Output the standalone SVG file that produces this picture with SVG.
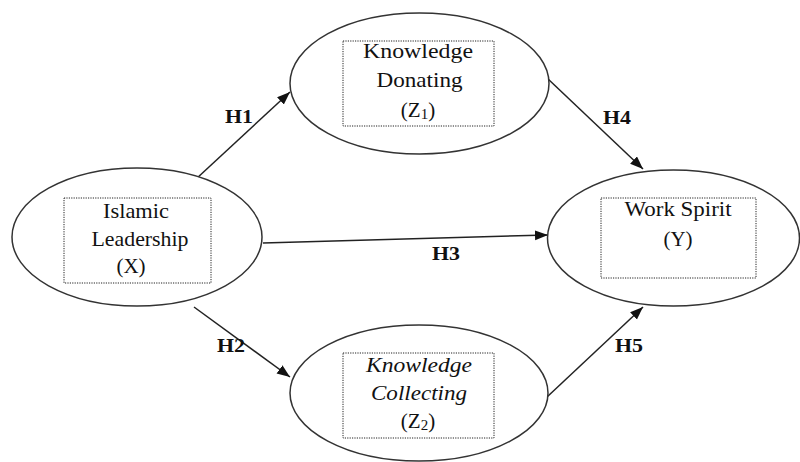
<svg xmlns="http://www.w3.org/2000/svg" width="800" height="462" viewBox="0 0 800 462">
<style>
.ell{fill:#fff;stroke:#333;stroke-width:1.5}
.box{fill:none;stroke:#222;stroke-width:1;stroke-dasharray:1.2,1.2}
.t{font-family:"Liberation Serif","Times New Roman",serif;font-size:21px;fill:#111;text-anchor:middle}
.it{font-style:italic}
.sub{font-size:15px}
.lbl{font-family:"Liberation Serif","Times New Roman",serif;font-size:18px;font-weight:bold;fill:#111}
.con{fill:none;stroke:#222;stroke-width:1.5}
</style>
<defs>
<marker id="ah" markerUnits="userSpaceOnUse" markerWidth="14" markerHeight="12" refX="13" refY="5" orient="auto">
<path d="M0,0 L13,5 L0,10 z" fill="#111"/>
</marker>
</defs>
<rect width="800" height="462" fill="#fff"/>
<g id="connectors">
<line class="con" x1="196" y1="179" x2="290" y2="92" marker-end="url(#ah)"/>
<line class="con" x1="194" y1="307" x2="290" y2="377" marker-end="url(#ah)"/>
<line class="con" x1="263" y1="243" x2="548" y2="235" marker-end="url(#ah)"/>
<line class="con" x1="547" y1="78" x2="643" y2="169" marker-end="url(#ah)"/>
<line class="con" x1="547" y1="397" x2="643" y2="307" marker-end="url(#ah)"/>
<text class="lbl" x="225" y="123" textLength="28" lengthAdjust="spacingAndGlyphs">H1</text>
<text class="lbl" x="217" y="352" textLength="28" lengthAdjust="spacingAndGlyphs">H2</text>
<text class="lbl" x="432" y="260" textLength="28" lengthAdjust="spacingAndGlyphs">H3</text>
<text class="lbl" x="603" y="124" textLength="28" lengthAdjust="spacingAndGlyphs">H4</text>
<text class="lbl" x="615" y="352" textLength="28" lengthAdjust="spacingAndGlyphs">H5</text>
</g>
<g id="nodeX">
<ellipse class="ell" cx="137" cy="237" rx="125" ry="69"/>
<rect class="box" x="64" y="198" width="147" height="85"/>
<text class="t" x="136" y="218" textLength="66" lengthAdjust="spacingAndGlyphs">Islamic</text>
<text class="t" x="140" y="246" textLength="97" lengthAdjust="spacingAndGlyphs">Leadership</text>
<text class="t" x="131" y="273">(X)</text>
</g>
<g id="nodeZ1">
<ellipse class="ell" cx="419.5" cy="83.5" rx="129.5" ry="70.5"/>
<rect class="box" x="343" y="41" width="151" height="85"/>
<text class="t" x="418" y="58" textLength="110" lengthAdjust="spacingAndGlyphs">Knowledge</text>
<text class="t" x="419.5" y="87" textLength="86" lengthAdjust="spacingAndGlyphs">Donating</text>
<text class="t" x="418" y="117">(Z<tspan class="sub" dy="2">1</tspan><tspan dy="-2">)</tspan></text>
</g>
<g id="nodeY">
<ellipse class="ell" cx="673.5" cy="238" rx="126" ry="68"/>
<rect class="box" x="601" y="198" width="155" height="80"/>
<text class="t" x="678" y="216" textLength="107" lengthAdjust="spacingAndGlyphs">Work Spirit</text>
<text class="t" x="678" y="246">(Y)</text>
</g>
<g id="nodeZ2">
<ellipse class="ell" cx="419" cy="393" rx="129" ry="68"/>
<rect class="box" x="343" y="353" width="151" height="85"/>
<text class="t it" x="419" y="372" textLength="106" lengthAdjust="spacingAndGlyphs">Knowledge</text>
<text class="t it" x="419" y="400" textLength="96" lengthAdjust="spacingAndGlyphs">Collecting</text>
<text class="t" x="418" y="428">(Z<tspan class="sub" dy="2">2</tspan><tspan dy="-2">)</tspan></text>
</g>
</svg>
